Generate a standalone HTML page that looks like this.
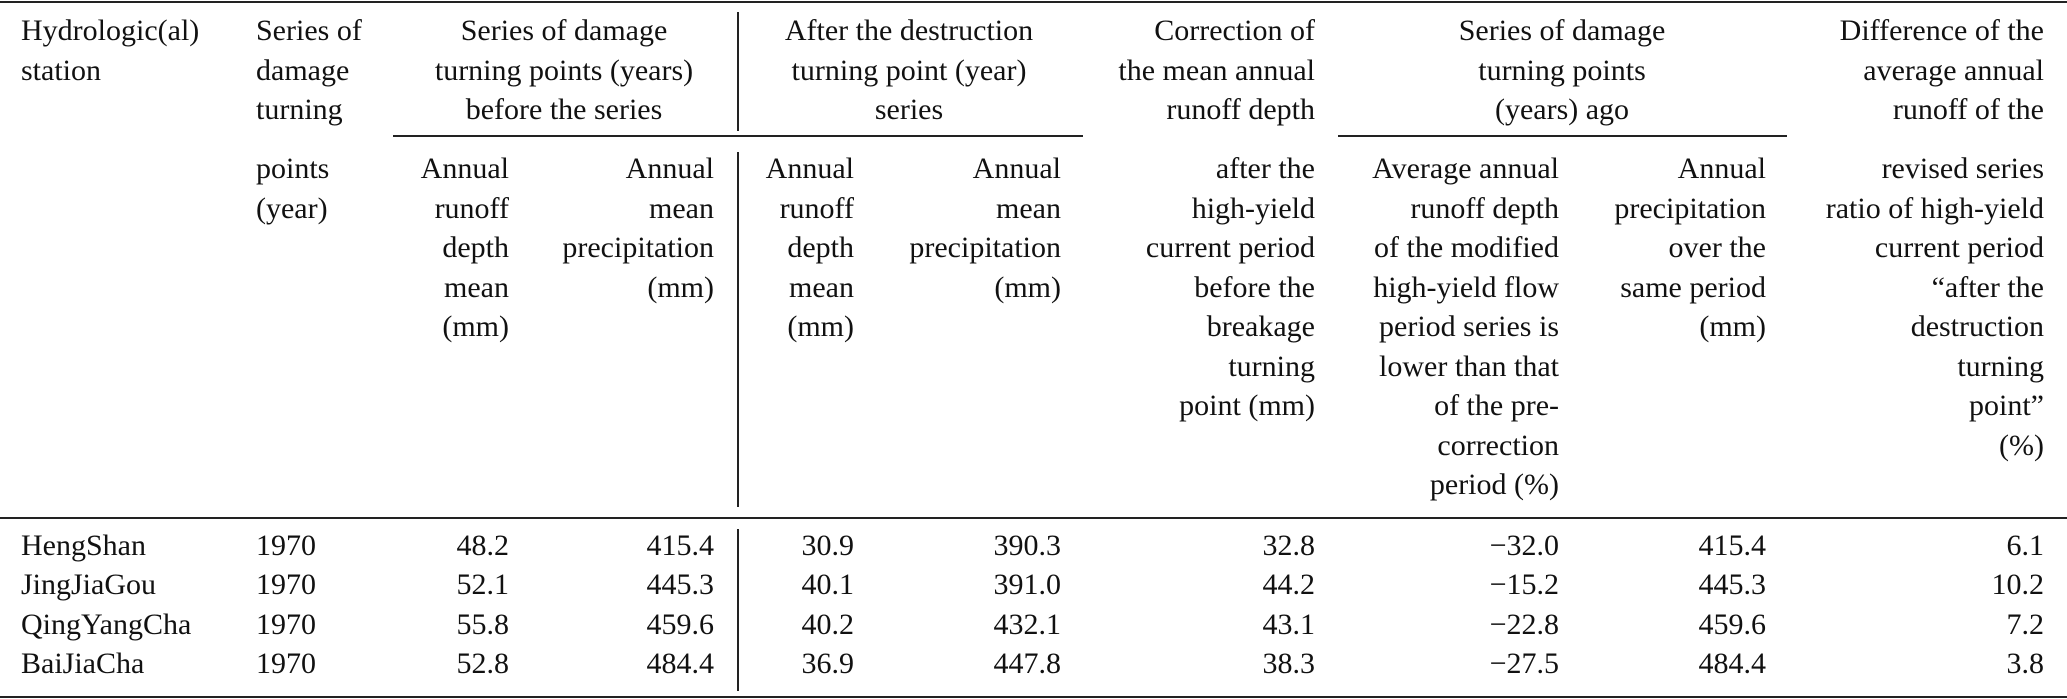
<!DOCTYPE html>
<html><head><meta charset="utf-8"><style>
html,body{margin:0;padding:0;background:#fff;}
body{width:2067px;height:699px;position:relative;overflow:hidden;font-family:"Liberation Serif","Times New Roman",serif;font-size:30px;color:#111;}
.b{position:absolute;white-space:nowrap;line-height:39.5px;font-family:"Liberation Serif","Times New Roman",serif;}
.l{text-align:left}.r{text-align:right}.c{text-align:center}
.hr{position:absolute;background:#222;}
</style></head><body>
<div class="hr" style="left:0;top:1px;width:2067px;height:2px"></div>
<div class="hr" style="left:393px;top:135px;width:690px;height:2px"></div>
<div class="hr" style="left:1338px;top:135px;width:449px;height:2px"></div>
<div class="hr" style="left:0;top:517px;width:2067px;height:2px"></div>
<div class="hr" style="left:0;top:696px;width:2067px;height:2px"></div>
<div class="hr" style="left:737px;top:12px;width:1.5px;height:119px"></div>
<div class="hr" style="left:737px;top:152px;width:1.5px;height:355px"></div>
<div class="hr" style="left:737px;top:529px;width:1.5px;height:162px"></div>

<div class="b l" style="left:21px;top:11px">Hydrologic(al)<br>station</div>
<div class="b l" style="left:256px;top:11px">Series of<br>damage<br>turning</div>
<div class="b c" style="left:414px;width:300px;top:11px">Series of damage<br>turning points (years)<br>before the series</div>
<div class="b c" style="left:759px;width:300px;top:11px">After the destruction<br>turning point (year)<br>series</div>
<div class="b r" style="right:752px;top:11px">Correction of<br>the mean annual<br>runoff depth</div>
<div class="b c" style="left:1412px;width:300px;top:11px">Series of damage<br>turning points<br>(years) ago</div>
<div class="b r" style="right:23px;top:11px">Difference of the<br>average annual<br>runoff of the</div>

<div class="b l" style="left:256px;top:149px">points<br>(year)</div>
<div class="b r" style="right:1558px;top:149px">Annual<br>runoff<br>depth<br>mean<br>(mm)</div>
<div class="b r" style="right:1353px;top:149px">Annual<br>mean<br>precipitation<br>(mm)</div>
<div class="b r" style="right:1213px;top:149px">Annual<br>runoff<br>depth<br>mean<br>(mm)</div>
<div class="b r" style="right:1006px;top:149px">Annual<br>mean<br>precipitation<br>(mm)</div>
<div class="b r" style="right:752px;top:149px">after the<br>high-yield<br>current period<br>before the<br>breakage<br>turning<br>point (mm)</div>
<div class="b r" style="right:508px;top:149px">Average annual<br>runoff depth<br>of the modified<br>high-yield flow<br>period series is<br>lower than that<br>of the pre-<br>correction<br>period (%)</div>
<div class="b r" style="right:301px;top:149px">Annual<br>precipitation<br>over the<br>same period<br>(mm)</div>
<div class="b r" style="right:23px;top:149px">revised series<br>ratio of high-yield<br>current period<br>“after the<br>destruction<br>turning<br>point”<br>(%)</div>

<div class="b l" style="left:21px;top:526px;line-height:39.3px">HengShan<br>JingJiaGou<br>QingYangCha<br>BaiJiaCha</div>
<div class="b l" style="left:256px;top:526px;line-height:39.3px">1970<br>1970<br>1970<br>1970</div>
<div class="b r" style="right:1558px;top:526px;line-height:39.3px">48.2<br>52.1<br>55.8<br>52.8</div>
<div class="b r" style="right:1353px;top:526px;line-height:39.3px">415.4<br>445.3<br>459.6<br>484.4</div>
<div class="b r" style="right:1213px;top:526px;line-height:39.3px">30.9<br>40.1<br>40.2<br>36.9</div>
<div class="b r" style="right:1006px;top:526px;line-height:39.3px">390.3<br>391.0<br>432.1<br>447.8</div>
<div class="b r" style="right:752px;top:526px;line-height:39.3px">32.8<br>44.2<br>43.1<br>38.3</div>
<div class="b r" style="right:508px;top:526px;line-height:39.3px">−32.0<br>−15.2<br>−22.8<br>−27.5</div>
<div class="b r" style="right:301px;top:526px;line-height:39.3px">415.4<br>445.3<br>459.6<br>484.4</div>
<div class="b r" style="right:23px;top:526px;line-height:39.3px">6.1<br>10.2<br>7.2<br>3.8</div>
</body></html>
